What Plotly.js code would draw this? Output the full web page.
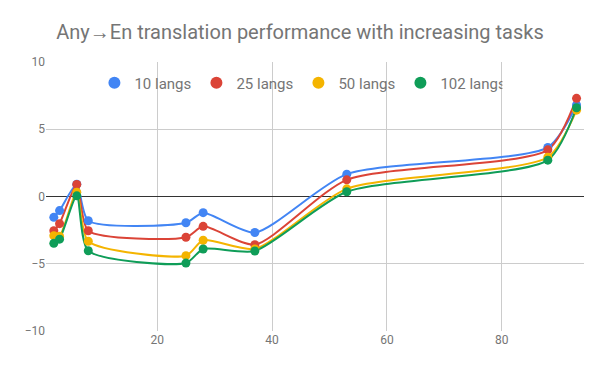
<!DOCTYPE html>
<html>
<head>
<meta charset="utf-8">
<script src="https://cdn.plot.ly/plotly-3.0.1.min.js"></script>
<style>
	html, body { margin: 0; padding: 0; background: #fff; }
	#chart { width: 600px; height: 371px; }
</style>
</head>
<body>
<div id="chart"></div>
<script>
// number of tasks on the x axis
const tasks = [2, 3, 6, 8, 25, 28, 37, 53, 88, 93];

const seriesNames = ["10 langs", "25 langs", "50 langs", "102 langs"];
const seriesColors = ["#4285F4", "#DB4437", "#F4B400", "#0F9D58"];

const langs10 = [-1.55, -1.05, 0.92, -1.8, -1.95, -1.2, -2.68, 1.66, 3.65, 6.8];
const langs25 = [-2.55, -2.02, 0.9, -2.55, -3.03, -2.22, -3.58, 1.24, 3.47, 7.3];
const langs50 = [-2.92, -2.95, 0.32, -3.33, -4.4, -3.25, -3.9, 0.57, 2.92, 6.42];
const langs102 = [-3.48, -3.17, 0.05, -4.03, -4.95, -3.9, -4.05, 0.35, 2.7, 6.6];

const yTicks = [-10, -5, 0, 5, 10];
const xTicks = [20, 40, 60, 80];

function drawChart() {
	const allSeries = [langs10, langs25, langs50, langs102];
	const lineTraces = allSeries.map((vals, idx) => ({
		x: tasks,
		y: vals,
		type: "scatter",
		mode: "lines",
		line: {color: seriesColors[idx], width: 2, shape: "spline", smoothing: 0.65},
		showlegend: false,
		hoverinfo: "skip"
	}));
	const pointTraces = allSeries.map((vals, idx) => ({
		x: tasks,
		y: vals,
		type: "scatter",
		mode: "markers",
		name: seriesNames[idx],
		marker: {color: seriesColors[idx], size: 9}
	}));

	const layout = {
		width: 600,
		height: 371,
		title: {
			text: "Any→En translation performance with increasing tasks",
			font: {family: "Roboto, Arial, sans-serif", size: 20, color: "#757575"},
			x: 0.5, xanchor: "center", y: 0.914, yanchor: "middle"
		},
		font: {family: "Roboto, Arial, sans-serif", color: "#757575"},
		xaxis: {
			range: [0.64, 94.3],
			tickvals: xTicks,
			showgrid: true,
			gridcolor: "#cccccc",
			zeroline: false,
			showline: false,
			ticks: "",
			tickfont: {size: 12, color: "#757575"}
		},
		yaxis: {
			range: [-10, 10],
			tickvals: yTicks,
			showgrid: true,
			gridcolor: "#cccccc",
			zeroline: true,
			zerolinecolor: "#333333",
			zerolinewidth: 1,
			showline: false,
			ticks: "",
			ticklen: 0,
			tickfont: {size: 12, color: "#757575"}
		},
		legend: {
			orientation: "h",
			x: 0.09, xanchor: "left",
			y: 0.922, yanchor: "middle",
			bgcolor: "rgba(0,0,0,0)",
			font: {size: 15, color: "#757575"},
			entrywidth: 57,
			itemsizing: "constant"
		},
		plot_bgcolor: "white",
		paper_bgcolor: "white",
		margin: {l: 46, r: 16, t: 62, b: 40},
		showlegend: true
	};

	Plotly.newPlot("chart", lineTraces.concat(pointTraces), layout, {displayModeBar: false, staticPlot: true});
}

window.addEventListener("DOMContentLoaded", drawChart);
</script>
</body>
</html>
